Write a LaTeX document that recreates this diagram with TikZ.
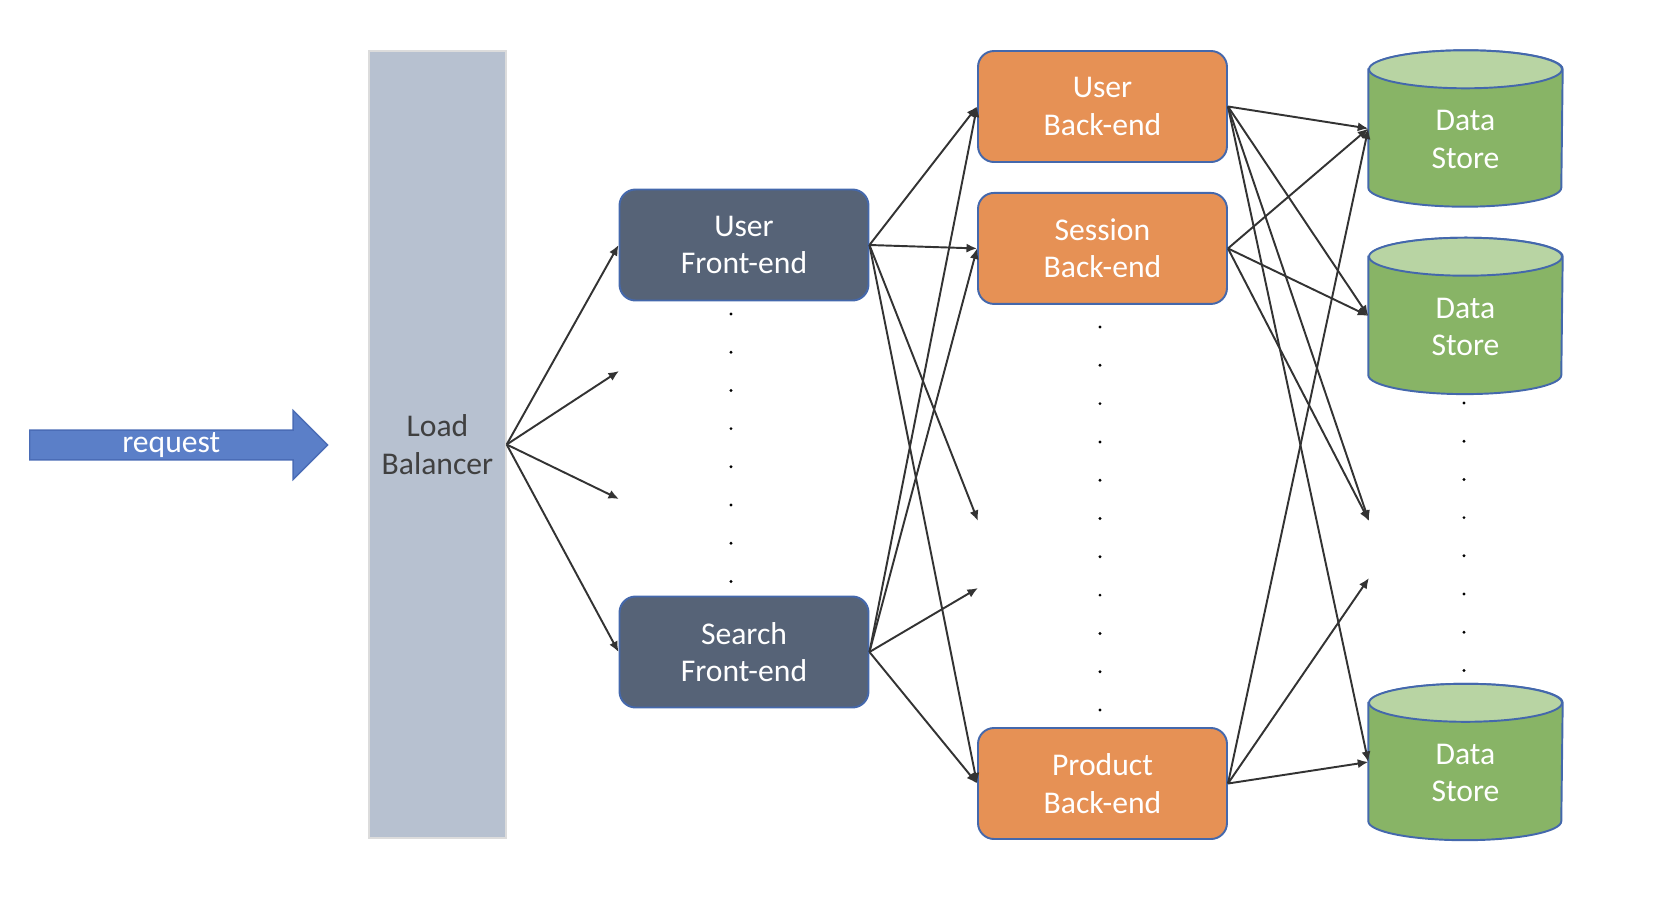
\documentclass[tikz,border=0pt]{standalone}
\usepackage{fontspec}
\setmainfont{Carlito}
\usetikzlibrary{arrows.meta,positioning,backgrounds,calc}
\usetikzlibrary{shapes.arrows}

\definecolor{reqblue}{HTML}{5B7FC8}
\definecolor{reqline}{HTML}{4A6CB6}
\definecolor{lbgray}{HTML}{B7C1D0}
\definecolor{lbline}{HTML}{DCDCDC}
\definecolor{lbtext}{HTML}{404040}
\definecolor{fegray}{HTML}{566377}
\definecolor{beorange}{HTML}{E69155}
\definecolor{boxline}{HTML}{4468AC}
\definecolor{dsgreen}{HTML}{88B466}
\definecolor{dstop}{HTML}{B8D4A3}
\definecolor{linkgray}{HTML}{333333}

\tikzset{
  % tier boxes share size and corners
  tier/.style={draw=boxline, line width=0.55pt, rounded corners=1.6mm,
  text=white, align=center, inner sep=0pt,
  minimum width=24.9mm,
  minimum height=11.1mm},
  frontend/.style={tier, fill=fegray},
  backend/.style={tier, fill=beorange},
  % store text sits a little below the middle of the cylinder
  store/.style={rectangle, inner sep=0pt,
  minimum width=19.3mm,
  minimum height=15.5mm,
  label={[text=white, align=center, yshift=-1.1mm]center:#1}},
  balancer/.style={draw=lbline, fill=lbgray, text=lbtext, align=center,
  inner sep=0pt, minimum width=13.7mm, minimum height=78.7mm},
  request/.style={single arrow, draw=reqline, fill=reqblue, text=white,
  inner sep=0pt, minimum height=29.8mm, minimum width=6.9mm,
  single arrow head extend=1.75mm, single arrow head indent=0pt}}

\begin{document}
\begin{tikzpicture}[%pixel grid of the drawing
    x=0.1mm,
    y=-0.1mm,
    >={Latex[length=3pt,width=2.6pt]}, % small filled tips
    every node/.style={font=\fontsize{9}{10.6}\selectfont},
    link/.style={->, draw=linkgray, line width=0.55pt},
    ]

\useasboundingbox (0,0) rectangle (1654,902);

\node (req) [request, anchor=tail] at (29,445) {request};

\node (lb) [balancer] at (437.5,444.5) {Load\\Balancer};

\node (ufe) [frontend] at (744,245) {User\\Front-end};
\node (sfe) [frontend] at (744,652) {Search\\Front-end};

\node (ube) [backend] at (1102.5,106.5) {User\\Back-end};
\node (sbe) [backend, below=2.9mm of ube] {Session\\Back-end};
\node (pbe) [backend] at (1102.5,783.5) {Product\\Back-end};

\node (ds1) [store={Data\\Store}] at (1465.5,128.5) {};
\node (ds2) [store={Data\\Store}, below=3.1mm of ds1] {};
\node (ds3) [store={Data\\Store}] at (1465.5,762) {};

% cylinders behind the store texts
\begin{scope}[on background layer]
\foreach \ds in {ds1,ds2,ds3}{
  \filldraw [fill=dsgreen, draw=boxline, line width=0.55pt]
    ([yshift=-1.9mm]\ds.north west) -- ([yshift=1.9mm]\ds.south west)
    arc [start angle=180, end angle=360, x radius=9.65mm, y radius=1.9mm]
    -- ([yshift=-1.9mm]\ds.north east)
    arc [start angle=0, end angle=180, x radius=9.65mm, y radius=1.9mm] -- cycle;
  \filldraw [fill=dstop, draw=boxline, line width=0.55pt]
    ([yshift=-1.9mm]\ds.north) ellipse [x radius=9.65mm, y radius=1.9mm];
}
\end{scope}

% dotted columns for the unnamed instances
\foreach \i in {0,...,7} \fill (731,314+38.2*\i) circle (0.16mm);
\foreach \i in {0,...,10} \fill (1100,327+38.3*\i) circle (0.16mm);
\foreach \i in {0,...,7} \fill (1464,403+38.2*\i) circle (0.16mm);

\coordinate (midfe1) at (619,371); %free ends, hidden front-ends
\coordinate (midfe2) at (619,499);
\coordinate (midbe1) at (978,521); %free ends, hidden back-ends
\coordinate (midbe2) at (978,588);
\coordinate (midds1) at (1369,521); %free ends, hidden stores
\coordinate (midds2) at (1369,578);

\draw [link] (lb.east) -- (ufe.west);
\draw [link] (lb.east) -- (midfe1);
\draw [link] (lb.east) -- (midfe2);
\draw [link] (lb.east) -- (sfe.west);

\draw [link] (ufe.east) -- (ube.west);
\draw [link] (ufe.east) -- (sbe.west);
\draw [link] (ufe.east) -- (midbe1);
\draw [link] (ufe.east) -- (pbe.west);

\draw [link] (sfe.east) -- (ube.west);
\draw [link] (sfe.east) -- (sbe.west);
\draw [link] (sfe.east) -- (midbe2);
\draw [link] (sfe.east) -- (pbe.west);

\draw [link] (ube.east) -- (ds1.west);
\draw [link] (ube.east) -- (ds2.west);
\draw [link] (ube.east) -- (midds1);
\draw [link] (ube.east) -- (ds3.west);

\draw [link] (sbe.east) -- (ds1.west);
\draw [link] (sbe.east) -- (ds2.west);
\draw [link] (sbe.east) -- (midds1);

\draw [link] (pbe.east) -- (ds1.west);
\draw [link] (pbe.east) -- (midds2);
\draw [link] (pbe.east) -- (ds3.west);

\end{tikzpicture}
\end{document}
